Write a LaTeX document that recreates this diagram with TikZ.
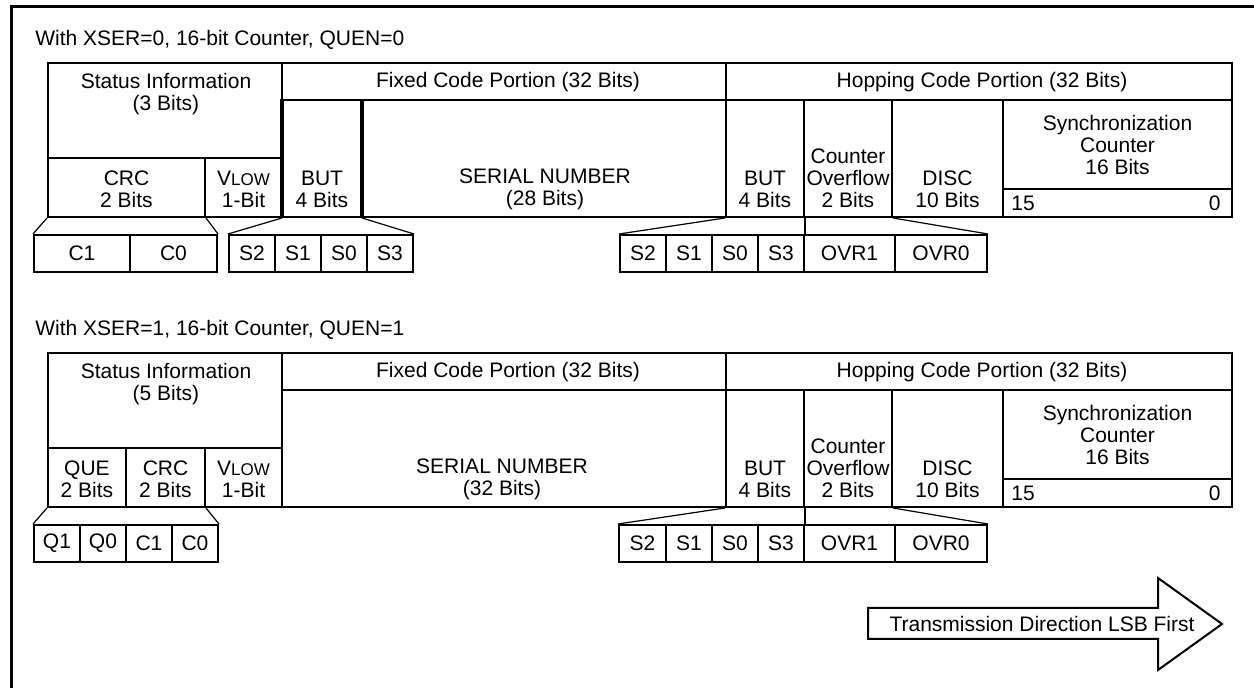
\documentclass[tikz,border=0pt]{standalone}
\usepackage{fontspec}
\setmainfont{Liberation Sans}
\usetikzlibrary{fit}
\tikzset{
  fld/.style={draw,line width=1pt,inner sep=0pt},
  bit/.style={draw,line width=1pt,inner sep=0pt},
  txt/.style={align=center,inner sep=0pt},
  fan/.style={line width=0.6pt}
}
\newcommand{\vlow}{V{\fontsize{8.5}{9}\selectfont LOW}}
\begin{document}
\begin{tikzpicture}[x=0.5pt,y=-0.5pt,font=\fontsize{10.5}{11}\selectfont]
\useasboundingbox (0,0) rectangle (1254,688);
% frame
\draw[line width=1.5pt](11,688)--(11,6.5)--(1254,6.5);

% XSER=0, QUEN=0
\node[txt,anchor=west](capA) at (35,40){With XSER=0, 16-bit Counter, QUEN=0};
\node[fld,fit={(48,63)(282,158)}](stA){};
\node[fld,fit={(282,63)(726,100)}](fixA){};
\node[fld,fit={(726,63)(1232,100)}](hopA){};
\node[fld,fit={(48,158)(205,217)}](crcA){};
\node[fld,fit={(205,158)(282,217)}](vlA){};
\node[fld,fit={(361,100)(726,217)}](serA){};
\node[fld,fit={(283,100)(361,217)}](butFA){};
\draw[line width=1.6pt](butFA.north west)--(butFA.south west) (butFA.north east)--(butFA.south east);
\node[fld,fit={(726,100)(804,217)}](butHA){};
\node[fld,fit={(804,100)(892,217)}](ovfA){};
\node[fld,fit={(892,100)(1003,217)}](discA){};
\node[fld,fit={(1003,100)(1232,189)}](syncA){};
\node[fld,fit={(1003,189)(1232,217)}](cntA){};
\node[txt](stAt) at (166,94){Status Information\\(3 Bits)};
\node[txt](fixAt) at (508,82){Fixed Code Portion (32 Bits)};
\node[txt](hopAt) at (982,82){Hopping Code Portion (32 Bits)};
\node[txt](crcAt) at (126.5,189){CRC\\2 Bits};
\node[txt](vlAt) at (243.5,189){\vlow\\1-Bit};
\node[txt](butFAt) at (322,189){BUT\\4 Bits};
\node[txt](serAt) at (545,189){SERIAL NUMBER\\(28 Bits)};
\node[txt](butHAt) at (765,189){BUT\\4 Bits};
\node[txt](ovfAt) at (848,178){Counter\\Overflow\\2 Bits};
\node[txt](discAt) at (947.5,189){DISC\\10 Bits};
\node[txt](syncAt) at (1117.5,145){Synchronization\\Counter\\16 Bits};
\node[txt,anchor=west](hiA) at (1011,203){15};
\node[txt,anchor=east](loA) at (1221,203){0};
\foreach \n/\a/\b in {C1/34/130,C0/130/217}
  \node[bit,fit={(\a,235)(\b,272)},label=center:\n](a\n){};
\foreach \n/\a/\b in {S2/229/275,S1/275/321,S0/321/367,S3/367/413}
  \node[bit,fit={(\a,235)(\b,272)},label=center:\n](af\n){};
\foreach \n/\a/\b in {S2/620/666,S1/666/712,S0/712/758,S3/758/804,OVR1/804/895,OVR0/895/987}
  \node[bit,fit={(\a,235)(\b,272)},label=center:\n](ah\n){};
\draw[fan](crcA.south west)--(aC1.north west) (crcA.south east)--(aC0.north east);
\draw[fan](butFA.south west)--(afS2.north west) (butFA.south east)--(afS3.north east);
\draw[fan](butHA.south west)--(ahS2.north west);
\draw[line width=1pt](butHA.south east)--(ahS3.north east);
\draw[fan](ovfA.south east)--(ahOVR0.north east);

% XSER=1, QUEN=1
\node[txt,anchor=west](capB) at (35,330){With XSER=1, 16-bit Counter, QUEN=1};
\node[fld,fit={(48,353)(282,448)}](stB){};
\node[fld,fit={(282,353)(726,390)}](fixB){};
\node[fld,fit={(726,353)(1232,390)}](hopB){};
\node[fld,fit={(48,448)(126,507)}](queB){};
\node[fld,fit={(126,448)(205,507)}](crcB){};
\node[fld,fit={(205,448)(282,507)}](vlB){};
\node[fld,fit={(282,390)(726,507)}](serB){};
\node[fld,fit={(726,390)(804,507)}](butB){};
\node[fld,fit={(804,390)(892,507)}](ovfB){};
\node[fld,fit={(892,390)(1003,507)}](discB){};
\node[fld,fit={(1003,390)(1232,479)}](syncB){};
\node[fld,fit={(1003,479)(1232,507)}](cntB){};
\node[txt](stBt) at (166,384){Status Information\\(5 Bits)};
\node[txt](fixBt) at (508,372){Fixed Code Portion (32 Bits)};
\node[txt](hopBt) at (982,372){Hopping Code Portion (32 Bits)};
\node[txt](queBt) at (87,479){QUE\\2 Bits};
\node[txt](crcBt) at (165.5,479){CRC\\2 Bits};
\node[txt](vlBt) at (243.5,479){\vlow\\1-Bit};
\node[txt](serBt) at (502,479){SERIAL NUMBER\\(32 Bits)};
\node[txt](butBt) at (765,479){BUT\\4 Bits};
\node[txt](ovfBt) at (848,468){Counter\\Overflow\\2 Bits};
\node[txt](discBt) at (947.5,479){DISC\\10 Bits};
\node[txt](syncBt) at (1117.5,435){Synchronization\\Counter\\16 Bits};
\node[txt,anchor=west](hiB) at (1011,493){15};
\node[txt,anchor=east](loB) at (1221,493){0};
\foreach \n/\a/\b in {Q1/34/80,Q0/80/126,C1/126/172,C0/172/218}
  \node[bit,fit={(\a,525)(\b,562)},label=center:\n](b\n){};
\foreach \n/\a/\b in {S2/619/666,S1/666/712,S0/712/758,S3/758/804,OVR1/804/895,OVR0/895/987}
  \node[bit,fit={(\a,525)(\b,562)},label=center:\n](bh\n){};
\draw[fan](queB.south west)--(bQ1.north west) (crcB.south east)--(bC0.north east);
\draw[fan](butB.south west)--(bhS2.north west);
\draw[line width=1pt](butB.south east)--(bhS3.north east);
\draw[fan](ovfB.south east)--(bhOVR0.north east);

% transmission direction
\draw[line width=1pt](868,608)--(1158,608)--(1158,578)--(1222,624)--(1158,670)--(1158,639)--(868,639)--cycle;
\node[txt](dir) at (1042,624){Transmission Direction LSB First};
\end{tikzpicture}
\end{document}
